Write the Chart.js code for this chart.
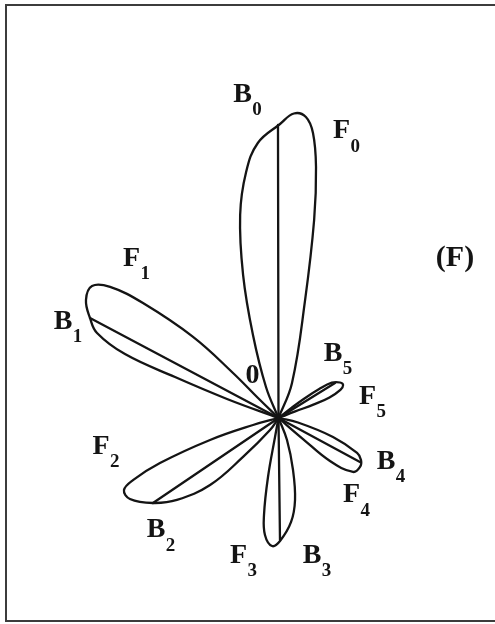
<!DOCTYPE html>
<html>
<head>
<meta charset="utf-8">
<script src="https://cdn.jsdelivr.net/npm/chart.js@4/dist/chart.umd.min.js"></script>
<style>
  html, body { margin: 0; padding: 0; background: #fff; }
  canvas { display: block; }
</style>
</head>
<body>
<canvas id="lobes" width="495" height="624"></canvas>
<script>
// Lobe outlines in polar form about the common origin:
// angle in degrees (counter-clockwise from +x), radius in plot units.
const lobe0Angle  = [68.9, 77.3, 79.8, 81.5, 83.1, 84.8, 87.1, 89.7, 94.3, 97.5, 100.7, 103.9, 107.1, 112.0];
const lobe0Radius = [37.5, 120.9, 201.2, 253.8, 287.1, 302.3, 304.9, 294, 275.8, 248.1, 206.6, 147.3, 86.8, 33.4];

const lobe1Angle  = [135.7, 135.3, 136.5, 139.7, 142.1, 144.7, 148.5, 152.05, 154.9, 157.4, 158.4, 159.7];
const lobe1Radius = [28.6, 64.0, 117.8, 177.7, 213.4, 228.5, 225.8, 213.4, 200.4, 166.3, 111.3, 54.9];

const lobe2Angle  = [195.4, 197.8, 200.8, 203.1, 205.0, 208.6, 214.1, 218.9, 224.4, 227.7, 234.7];
const lobe2Radius = [26.4, 71.9, 126.8, 158.2, 170.5, 169.2, 151.6, 130.5, 95.8, 52.3, 14.7];

const lobe3Angle  = [259.6, 259.9, 261.5, 263.4, 267.1, 270.7, 276.9, 281.4, 285.6, 291.1];
const lobe3Radius = [19.3, 59.9, 98.1, 117.8, 128.2, 123, 104.7, 83.6, 54.0, 23.6];

const lobe4Angle  = [347.0, 340.8, 336.0, 333.0, 329.0, 324.1, 320.1, 319.4];
const lobe4Radius = [20.0, 57.7, 86.0, 92.6, 95.1, 92.0, 67.1, 32.3];

const lobe5Angle  = [38.0, 37.0, 35.5, 33.5, 30.0, 27.0, 24.5, 22.0, 21.0, 21.5];
const lobe5Radius = [16, 32, 50, 64, 71, 72.5, 68, 55, 38, 18];

// Direction line drawn inside each lobe
const axisAngle  = [90.1, 152.05, 214.1, 270.7, 331.6, 31.8];
const axisLength = [293, 213.4, 151.6, 122, 92.6, 66.5];

// Text labels: main letter and its subscript
const labelMain = ['B', 'F', 'F', 'B', 'F', 'B', 'F', 'B', 'F', 'B', 'F', 'B', '0', '(F)'];
const labelSub  = ['0', '0', '1', '1', '2', '2', '3', '3', '4', '4', '5', '5', '', ''];

// ---- layout ----
const labelAnchor = [
  [-36, 326], [63, 289.5], [-147, 162], [-215.5, 99], [-177.5, -26], [-122.5, -109.5],
  [-40, -135], [33.5, -135], [73, -74.5], [107.5, -41], [89, 24], [54.5, 67],
  [-26, 45], [176.5, 162]
];
const viewX = [-278.5, 216.5];
const viewY = [-206, 418];
const ink = '#141414';

const lobeAngles = [lobe0Angle, lobe1Angle, lobe2Angle, lobe3Angle, lobe4Angle, lobe5Angle];
const lobeRadii  = [lobe0Radius, lobe1Radius, lobe2Radius, lobe3Radius, lobe4Radius, lobe5Radius];

function polar(a, r) {
  const t = a * Math.PI / 180;
  return { x: r * Math.cos(t), y: r * Math.sin(t) };
}

const datasets = [];
lobeAngles.forEach((angles, i) => {
  const pts = [{ x: 0, y: 0 }];
  angles.forEach((a, k) => pts.push(polar(a, lobeRadii[i][k])));
  pts.push({ x: 0, y: 0 });
  datasets.push({
    label: 'lobe ' + i,
    data: pts,
    showLine: true,
    tension: 0.4,
    borderColor: ink,
    borderWidth: 2.3,
    pointRadius: 0,
    fill: false
  });
  datasets.push({
    label: 'axis ' + i,
    data: [{ x: 0, y: 0 }, polar(axisAngle[i], axisLength[i])],
    showLine: true,
    tension: 0,
    borderColor: ink,
    borderWidth: 2.3,
    pointRadius: 0,
    fill: false
  });
});

const framePlugin = {
  id: 'frame',
  beforeDraw(chart) {
    const ctx = chart.ctx;
    ctx.save();
    ctx.fillStyle = '#fff';
    ctx.fillRect(0, 0, chart.width, chart.height);
    ctx.strokeStyle = '#3c3c3c';
    ctx.lineWidth = 2;
    ctx.beginPath();
    ctx.moveTo(chart.width + 2, 5);
    ctx.lineTo(6, 5);
    ctx.lineTo(6, 621);
    ctx.lineTo(chart.width + 2, 621);
    ctx.stroke();
    ctx.restore();
  }
};

const labelPlugin = {
  id: 'letters',
  afterDatasetsDraw(chart) {
    const ctx = chart.ctx;
    const sx = chart.scales.x, sy = chart.scales.y;
    ctx.save();
    ctx.fillStyle = ink;
    ctx.textAlign = 'left';
    ctx.textBaseline = 'alphabetic';
    labelMain.forEach((txt, i) => {
      const cx = sx.getPixelForValue(labelAnchor[i][0]);
      const cy = sy.getPixelForValue(labelAnchor[i][1]);
      const big = txt === '(F)' ? 30 : 28;
      ctx.font = 'bold ' + big + 'px "Liberation Serif", "DejaVu Serif", serif';
      const w = ctx.measureText(txt).width;
      const left = cx - w / 2;
      ctx.fillText(txt, left, cy + 9.5);
      if (labelSub[i]) {
        ctx.font = 'bold 19px "Liberation Serif", "DejaVu Serif", serif';
        ctx.fillText(labelSub[i], left + w + 0.5, cy + 23);
      }
    });
    ctx.restore();
  }
};

new Chart(document.getElementById('lobes'), {
  type: 'scatter',
  data: { datasets },
  options: {
    responsive: false,
    animation: false,
    devicePixelRatio: 1,
    layout: { padding: 0 },
    scales: {
      x: { type: 'linear', min: viewX[0], max: viewX[1], display: false },
      y: { type: 'linear', min: viewY[0], max: viewY[1], display: false }
    },
    elements: { line: { capBezierPoints: false, borderJoinStyle: 'round', borderCapStyle: 'round' } },
    plugins: { legend: { display: false }, tooltip: { enabled: false } }
  },
  plugins: [framePlugin, labelPlugin]
});
</script>
</body>
</html>
